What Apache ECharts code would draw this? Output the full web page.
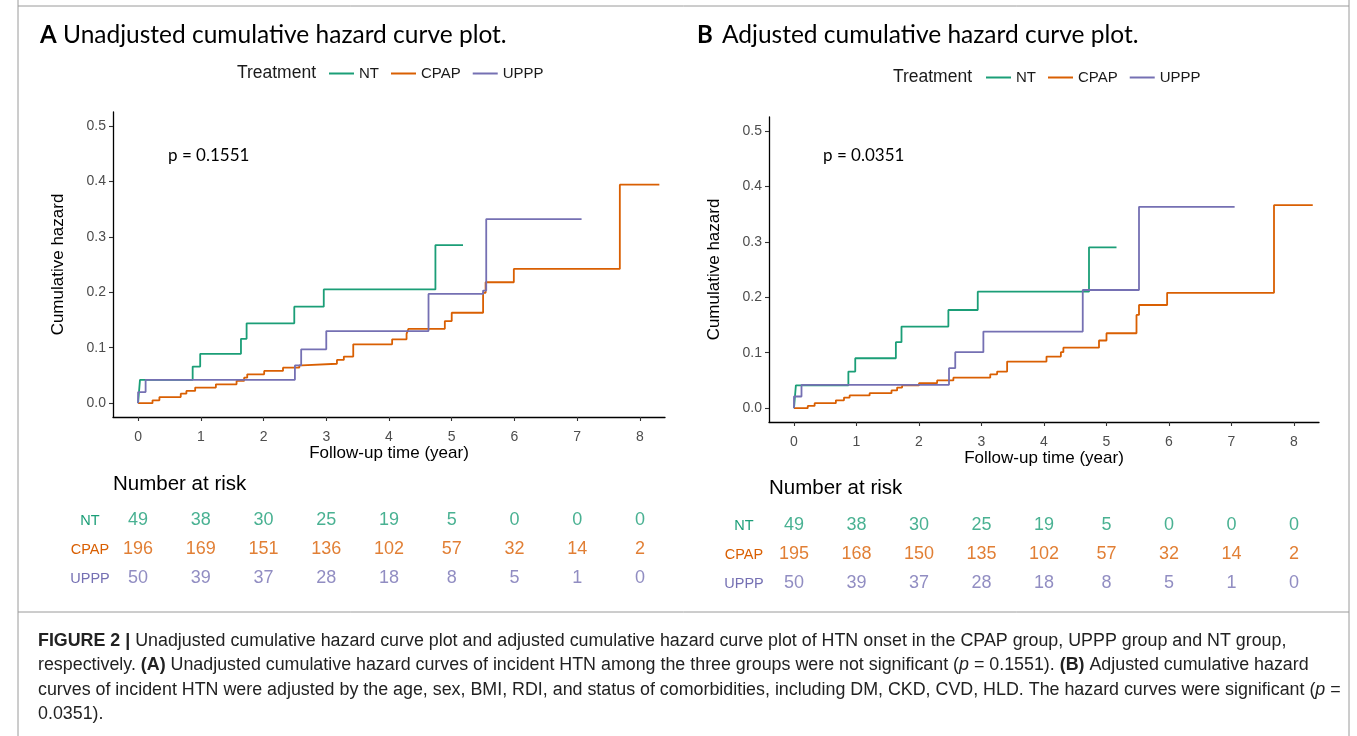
<!DOCTYPE html>
<html>
<head>
<meta charset="utf-8">
<script src="https://cdn.jsdelivr.net/npm/echarts@6/dist/echarts.min.js"></script>
<style>
html,body{margin:0;padding:0;background:#fff;}
#chart{width:1357px;height:736px;}
</style>
</head>
<body>
<div id="chart"></div>
<script>
// ---------- DATA ----------
const groups = ['NT', 'CPAP', 'UPPP'];
const xTicks = [0, 1, 2, 3, 4, 5, 6, 7, 8];
const yTicks = [0, 0.1, 0.2, 0.3, 0.4, 0.5];

// Panel A (unadjusted)
const ntTimeA   = [0, 0.03, 0.87, 0.99, 1.64, 1.73, 2.49, 2.96, 4.74, 5.18];
const ntHazA    = [0, 0.042, 0.066, 0.089, 0.116, 0.144, 0.174, 0.205, 0.285, 0.285];
const cpapTimeA = [0, 0.23, 0.34, 0.68, 0.77, 0.91, 1.24, 1.57, 1.69, 1.74, 2.01, 2.31, 2.57, 2.61, 3.17, 3.28, 3.43, 4.05, 4.28, 4.31, 4.89, 5.00, 5.50, 5.54, 5.99, 7.68, 8.31];
const cpapHazA  = [0, 0.005, 0.011, 0.017, 0.022, 0.028, 0.034, 0.040, 0.046, 0.052, 0.058, 0.064, 0.068, 0.071, 0.078, 0.084, 0.106, 0.115, 0.125, 0.134, 0.148, 0.163, 0.199, 0.218, 0.242, 0.394, 0.394];
const upppTimeA = [0, 0, 0.12, 2.50, 2.60, 3.00, 4.63, 5.50, 5.55, 7.07];
const upppHazA  = [0, 0.020, 0.042, 0.068, 0.097, 0.130, 0.197, 0.203, 0.332, 0.332];

// Panel B (adjusted)
const ntTimeB   = [0, 0.03, 0.87, 0.98, 1.63, 1.72, 2.47, 2.94, 4.72, 5.16];
const ntHazB    = [0, 0.041, 0.066, 0.090, 0.119, 0.147, 0.177, 0.210, 0.290, 0.290];
const cpapTimeB = [0, 0.22, 0.33, 0.67, 0.80, 0.89, 1.21, 1.56, 1.65, 1.73, 2.00, 2.29, 2.55, 3.14, 3.25, 3.41, 4.04, 4.27, 4.31, 4.88, 5.00, 5.48, 5.52, 5.97, 7.68, 8.30];
const cpapHazB  = [0, 0.004, 0.009, 0.014, 0.019, 0.023, 0.027, 0.032, 0.037, 0.041, 0.045, 0.050, 0.055, 0.061, 0.066, 0.084, 0.093, 0.101, 0.109, 0.122, 0.135, 0.168, 0.186, 0.208, 0.366, 0.366];
const upppTimeB = [0, 0, 0.12, 2.48, 2.58, 3.03, 4.62, 5.52, 7.05];
const upppHazB  = [0, 0.021, 0.042, 0.072, 0.101, 0.138, 0.213, 0.363, 0.363];

// Number at risk
const riskTimes = [0, 1, 2, 3, 4, 5, 6, 7, 8];
const riskNtA   = [49, 38, 30, 25, 19, 5, 0, 0, 0];
const riskCpapA = [196, 169, 151, 136, 102, 57, 32, 14, 2];
const riskUpppA = [50, 39, 37, 28, 18, 8, 5, 1, 0];
const riskNtB   = [49, 38, 30, 25, 19, 5, 0, 0, 0];
const riskCpapB = [195, 168, 150, 135, 102, 57, 32, 14, 2];
const riskUpppB = [50, 39, 37, 28, 18, 8, 5, 1, 0];

const pTextA = 'p = 0.1551';
const pTextB = 'p = 0.0351';

// ---------- STYLE ----------
const COLORS = {NT: '#1b9e77', CPAP: '#d95f02', UPPP: '#7570b3'};
const SANS = 'Liberation Sans, Arial, sans-serif';
const CAL = 'Lato, Carlito, Calibri, sans-serif';

const zip = (t, h) => t.map((v, i) => [v, h[i]]);

function plotX(gi) {
  return {
    type: 'value', gridIndex: gi, min: -0.4, max: 8.4,
    axisLine: {onZero: false, lineStyle: {color: '#000', width: 1.3}},
    axisTick: {show: true, customValues: xTicks, length: 4, lineStyle: {color: '#333', width: 1.1}},
    axisLabel: {customValues: xTicks, color: '#4d4d4d', fontSize: 14, fontFamily: SANS, margin: 13},
    splitLine: {show: false},
    name: 'Follow-up time (year)', nameLocation: 'middle', nameGap: 25,
    nameTextStyle: {color: '#000', fontSize: 17, fontFamily: SANS}
  };
}
function plotY(gi) {
  return {
    type: 'value', gridIndex: gi, min: -0.025, max: 0.525,
    axisLine: {show: true, onZero: false, lineStyle: {color: '#000', width: 1.3}},
    axisTick: {show: true, customValues: yTicks, length: 4, lineStyle: {color: '#333', width: 1.1}},
    axisLabel: {customValues: yTicks, color: '#4d4d4d', fontSize: 14, fontFamily: SANS, margin: 7,
                formatter: v => v.toFixed(1)},
    splitLine: {show: false},
    name: 'Cumulative hazard', nameLocation: 'middle', nameGap: 46,
    nameTextStyle: {color: '#000', fontSize: 17, fontFamily: SANS}
  };
}
function riskX(gi) {
  return {type: 'value', gridIndex: gi, min: -0.4, max: 8.4, show: false, splitLine: {show: false}};
}
function riskY(gi, margin) {
  const rich = {};
  groups.forEach(g => rich[g] = {color: COLORS[g], fontSize: 14.5, fontFamily: SANS});
  return {
    type: 'category', gridIndex: gi, data: groups, inverse: true,
    axisLine: {show: false}, axisTick: {show: false}, splitLine: {show: false},
    axisLabel: {align: 'center', margin: margin, formatter: v => '{' + v + '|' + v + '}', rich: rich}
  };
}
function curve(name, gi, t, h) {
  return {
    type: 'line', name: name, xAxisIndex: gi, yAxisIndex: gi, step: 'end',
    showSymbol: false, symbol: 'none', data: zip(t, h),
    lineStyle: {color: COLORS[name], width: 1.8}, itemStyle: {color: COLORS[name]},
    emphasis: {disabled: true}
  };
}
function riskRow(name, gi, row, vals) {
  return {
    type: 'scatter', name: 'risk' + name + gi, xAxisIndex: gi, yAxisIndex: gi, silent: true,
    symbolSize: 1, itemStyle: {color: 'rgba(0,0,0,0)'},
    label: {show: true, position: 'inside', formatter: p => p.value[2],
            color: COLORS[name], fontSize: 18, fontFamily: SANS},
    data: riskTimes.map((t, i) => [t, row, vals[i]])
  };
}
function txt(x, y, text, opts) {
  return Object.assign({
    type: 'text', x: x, y: y, silent: true,
    style: Object.assign({text: text, fill: '#000', fontSize: 16, fontFamily: SANS,
                          textAlign: 'left', textVerticalAlign: 'middle',
                          align: 'left', verticalAlign: 'middle'}, opts || {})
  });
}
function line(x1, y1, x2, y2) {
  return {type: 'line', silent: true, shape: {x1, y1, x2, y2}, style: {stroke: '#9a9a9a', lineWidth: 1}};
}

const legendBase = {
  data: groups, icon: 'rect', itemWidth: 25, itemHeight: 2, itemGap: 12,
  textStyle: {color: '#1a1a1a', fontSize: 15, fontFamily: SANS}, selectedMode: false
};

const CAPF = 17.85;
const capRich = {
  b: {fontWeight: 'bold', fontSize: CAPF, fontFamily: SANS, fill: '#222', color: '#222'},
  i: {fontStyle: 'italic', fontSize: CAPF, fontFamily: SANS, fill: '#222', color: '#222'}
};
const capStyle = {fontSize: CAPF, fontFamily: SANS, fill: '#222', rich: capRich};

const option = {
  animation: false,
  backgroundColor: '#fff',
  grid: [
    {left: 113, top: 112, width: 552, height: 305},
    {left: 769, top: 117, width: 550, height: 305},
    {left: 113, top: 506, width: 552, height: 87},
    {left: 769, top: 511, width: 550, height: 87}
  ],
  xAxis: [plotX(0), plotX(1), riskX(2), riskX(3)],
  yAxis: [plotY(0), plotY(1), riskY(2, 23), riskY(3, 25)],
  legend: [
    Object.assign({left: 324, top: 61}, legendBase),
    Object.assign({left: 981, top: 65}, legendBase)
  ],
  series: [
    curve('NT', 0, ntTimeA, ntHazA),
    curve('CPAP', 0, cpapTimeA, cpapHazA),
    curve('UPPP', 0, upppTimeA, upppHazA),
    curve('NT', 1, ntTimeB, ntHazB),
    curve('CPAP', 1, cpapTimeB, cpapHazB),
    curve('UPPP', 1, upppTimeB, upppHazB),
    riskRow('NT', 2, 0, riskNtA),
    riskRow('CPAP', 2, 1, riskCpapA),
    riskRow('UPPP', 2, 2, riskUpppA),
    riskRow('NT', 3, 0, riskNtB),
    riskRow('CPAP', 3, 1, riskCpapB),
    riskRow('UPPP', 3, 2, riskUpppB)
  ],
  graphic: [
    // frame
    line(18, 6, 1349, 6),
    line(18, 0, 18, 736),
    line(1349, 0, 1349, 736),
    line(18, 612, 1349, 612),
    // panel titles
    txt(40, 35, 'A', {fontSize: 24, fontFamily: CAL, fontWeight: 'bold'}),
    txt(63, 35, 'Unadjusted cumulative hazard curve plot.', {fontSize: 24.5, fontFamily: CAL}),
    txt(697, 35, 'B', {fontSize: 24, fontFamily: CAL, fontWeight: 'bold'}),
    txt(722, 35, 'Adjusted cumulative hazard curve plot.', {fontSize: 24.5, fontFamily: CAL}),
    // legend titles
    txt(316, 73, 'Treatment', {fontSize: 17.5, fill: '#1a1a1a', textAlign: 'right', align: 'right'}),
    txt(972, 77, 'Treatment', {fontSize: 17.5, fill: '#1a1a1a', textAlign: 'right', align: 'right'}),
    // p values
    txt(168, 156, pTextA, {fontSize: 17, fontFamily: CAL}),
    txt(823, 156, pTextB, {fontSize: 17, fontFamily: CAL}),
    // number at risk headers
    txt(113, 484, 'Number at risk', {fontSize: 20.5}),
    txt(769, 488, 'Number at risk', {fontSize: 20.5}),
    // caption
    txt(38, 641, '{b|FIGURE 2 |} Unadjusted cumulative hazard curve plot and adjusted cumulative hazard curve plot of HTN onset in the CPAP group, UPPP group and NT group,', capStyle),
    txt(38, 665, 'respectively. {b|(A)} Unadjusted cumulative hazard curves of incident HTN among the three groups were not significant ({i|p} = 0.1551). {b|(B)} Adjusted cumulative hazard', capStyle),
    txt(38, 690, 'curves of incident HTN were adjusted by the age, sex, BMI, RDI, and status of comorbidities, including DM, CKD, CVD, HLD. The hazard curves were significant ({i|p} =', capStyle),
    txt(38, 714, '0.0351).', capStyle)
  ]
};

const chart = echarts.init(document.getElementById('chart'), null, {renderer: 'canvas'});
chart.setOption(option);
</script>
</body>
</html>
